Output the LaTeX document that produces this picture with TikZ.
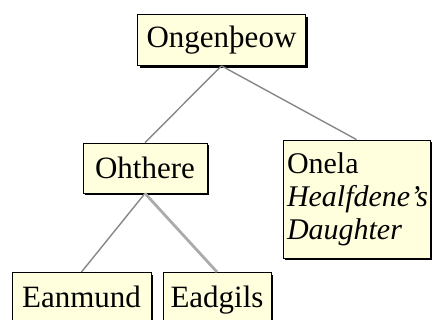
\documentclass[tikz,border=0pt]{standalone}
\usepackage{fontspec}
\setmainfont{Liberation Serif}
\usetikzlibrary{shadows}
\definecolor{boxfill}{RGB}{255,255,222}
\definecolor{linegray}{RGB}{135,135,135}
\tikzset{
  bigtext/.style={font=\fontsize{31}{34}\selectfont},
  person/.style={draw=black, line width=0.8pt, fill=boxfill, inner sep=0pt, bigtext,
    drop shadow={shadow xshift=2.2pt, shadow yshift=-2.2pt, fill=black, opacity=1}},
  link/.style={draw=linegray, line width=1.4pt},
  thicklink/.style={draw=linegray!70, line width=2.8pt}
}
\begin{document}
\begin{tikzpicture}[x=1pt,y=1pt]
\useasboundingbox (0,0) rectangle (432,320);
\begin{scope}
\clip (0,0) rectangle (432,320);
\node[person, minimum width=147pt, minimum height=118pt, align=left, text width=139pt,
  font=\fontsize{29}{33}\selectfont] (one) at (356.5,121)
  {\fontsize{30}{33}\selectfont Onela\\\textit{Healfdene’s}\\\textit{Daughter}};
\node[person, minimum width=168pt, minimum height=51pt] (ong) at (221.5,280) {Ongenþeow};
\node[person, minimum width=124pt, minimum height=50pt] (oht) at (145,152) {Ohthere};
\node[person, minimum width=139pt, minimum height=62pt, anchor=north] (ean) at (81.5,48) {};
\node[person, minimum width=108pt, minimum height=62pt, anchor=north] (ead) at (217,48) {};
\node[bigtext, inner sep=0pt, anchor=base] (eant) at (81.5,12) {Eanmund};
\node[bigtext, inner sep=0pt, anchor=base] (eadt) at (217,12) {Eadgils};
\end{scope}
\draw[link] (ong.south) -- (oht.north);
\draw[link] (ong.south) -- (one.north);
\draw[link] (oht.south) -- (ean.north);
\draw[thicklink] (oht.south) -- (ead.north);
\end{tikzpicture}
\end{document}
